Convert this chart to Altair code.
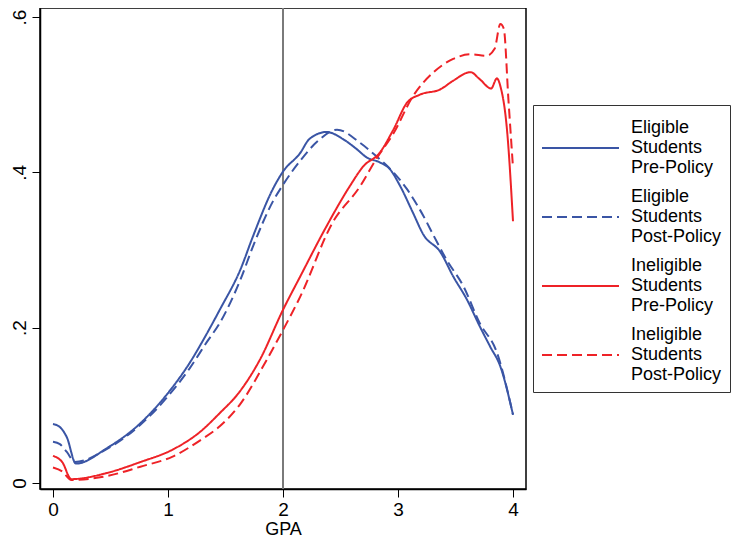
import altair as alt
import pandas as pd

series_names = [
    "Eligible Students Pre-Policy",
    "Eligible Students Post-Policy",
    "Ineligible Students Pre-Policy",
    "Ineligible Students Post-Policy",
]
series_colors = ["#3a55a5", "#3a55a5", "#ee2227", "#ee2227"]
series_dashes = [[1, 0], [10, 5], [1, 0], [10, 5]]

elig_pre_gpa = [0, 0.06, 0.12, 0.2, 0.47, 0.76, 0.99, 1.19, 1.34, 1.45, 1.63, 1.74, 1.91, 2.0,
                2.15, 2.23, 2.38, 2.52, 2.64, 2.73, 2.84, 2.93, 3.02, 3.13, 3.22, 3.37, 3.48,
                3.6, 3.71, 3.8, 3.89, 4.0]
elig_pre_val = [0.076, 0.072, 0.059, 0.025, 0.045, 0.077, 0.114, 0.155, 0.193, 0.223, 0.275,
                0.318, 0.378, 0.401, 0.425, 0.443, 0.452, 0.443, 0.43, 0.419, 0.413, 0.404,
                0.382, 0.348, 0.32, 0.297, 0.266, 0.236, 0.202, 0.176, 0.15, 0.088]

elig_post_gpa = [0, 0.06, 0.12, 0.19, 0.47, 0.76, 0.99, 1.19, 1.34, 1.45, 1.63, 1.74, 1.91, 2.0,
                 2.15, 2.3, 2.47, 2.67, 2.81, 2.96, 3.08, 3.19, 3.34, 3.42, 3.57, 3.71, 3.86, 4.0]
elig_post_val = [0.053, 0.05, 0.04, 0.027, 0.044, 0.075, 0.11, 0.148, 0.182, 0.206, 0.262,
                 0.305, 0.362, 0.384, 0.415, 0.44, 0.455, 0.438, 0.421, 0.4, 0.378, 0.352,
                 0.31, 0.288, 0.253, 0.206, 0.168, 0.088]

inel_pre_gpa = [0, 0.08, 0.16, 0.47, 0.76, 1.04, 1.28, 1.45, 1.62, 1.8, 2.0, 2.15, 2.38, 2.58,
                2.70, 2.84, 2.96, 3.08, 3.19, 3.37, 3.48, 3.63, 3.71, 3.81, 3.86, 3.89, 3.95, 4.0]
inel_pre_val = [0.035, 0.027, 0.005, 0.013, 0.027, 0.043, 0.066, 0.09, 0.117, 0.159, 0.223,
                0.266, 0.331, 0.382, 0.408, 0.425, 0.455, 0.49, 0.5, 0.507, 0.518, 0.529,
                0.52, 0.508, 0.521, 0.511, 0.451, 0.337]

inel_post_gpa = [0, 0.08, 0.16, 0.47, 0.76, 1.04, 1.28, 1.45, 1.62, 1.86, 2.0, 2.15, 2.43, 2.67,
                 2.81, 2.96, 3.13, 3.31, 3.48, 3.63, 3.77, 3.84, 3.89, 3.92, 3.96, 4.0]
inel_post_val = [0.020, 0.015, 0.004, 0.009, 0.021, 0.034, 0.055, 0.073, 0.1, 0.159, 0.197,
                 0.24, 0.335, 0.382, 0.417, 0.45, 0.498, 0.529, 0.546, 0.552, 0.550, 0.559,
                 0.591, 0.585, 0.494, 0.406]

cutoff = [2.0]
x_ticks = [0, 1, 2, 3, 4]
y_ticks = [0, 0.2, 0.4, 0.6]

rows = []
for name, gs, vs in zip(series_names,
                        [elig_pre_gpa, elig_post_gpa, inel_pre_gpa, inel_post_gpa],
                        [elig_pre_val, elig_post_val, inel_pre_val, inel_post_val]):
    for i, (g, v) in enumerate(zip(gs, vs)):
        rows.append({"series": name, "gpa": g, "val": v, "ord": i})
df = pd.DataFrame(rows)

FONT = "Liberation Sans"
x_scale = alt.Scale(domain=[-0.113, 4.113], nice=False, zero=False)
y_scale = alt.Scale(domain=[-0.0077, 0.6116], nice=False, zero=False)

# legend key: a horizontal stroke drawn beside the middle line of each 3-line label
legend = alt.Legend(
    orient="none", legendX=493, legendY=97, title=None,
    symbolType="M-1,1.4286H4.5", symbolSize=784, symbolStrokeWidth=2,
    labelFontSize=18, labelFont=FONT, labelColor="black", labelOffset=60,
    labelLimit=0, padding=8, strokeColor="#333333", fillColor="white",
    rowPadding=5, labelExpr="split(datum.label, ' ')",
)

rule = alt.Chart(pd.DataFrame({"gpa": cutoff})).mark_rule(
    color="#7a7a7a", strokeWidth=2
).encode(x=alt.X("gpa:Q", scale=x_scale))

lines = alt.Chart(df).mark_line(strokeWidth=2, interpolate="monotone").encode(
    x=alt.X("gpa:Q", scale=x_scale,
            axis=alt.Axis(values=x_ticks, title="GPA", format="d", tickSize=8,
                          labelPadding=3, titlePadding=1, titleFontSize=18)),
    y=alt.Y("val:Q", scale=y_scale,
            axis=alt.Axis(values=y_ticks, title=None, tickSize=8, labelAngle=270,
                          labelAlign="center", labelBaseline="alphabetic", labelPadding=7,
                          labelExpr="datum.value == 0 ? '0' : '.' + round(datum.value * 10)")),
    color=alt.Color("series:N", scale=alt.Scale(domain=series_names, range=series_colors),
                    legend=legend),
    strokeDash=alt.StrokeDash("series:N", scale=alt.Scale(domain=series_names, range=series_dashes),
                              legend=legend),
    order="ord:Q",
)

chart = alt.layer(rule, lines).properties(
    width=486, height=481,
    autosize=alt.AutoSizeParams(type="none"),
    padding={"left": 32, "top": 0, "right": 206, "bottom": 54},
).configure_view(
    stroke="black", strokeWidth=1.5
).configure_axis(
    grid=False, domainColor="black", domainWidth=1.5, tickColor="black", tickWidth=1,
    labelFont=FONT, labelFontSize=19, labelColor="black",
    titleFont=FONT, titleFontSize=19, titleFontWeight="normal", titleColor="black",
)

chart.save("out.html", embed_options={"renderer": "svg", "actions": False})
